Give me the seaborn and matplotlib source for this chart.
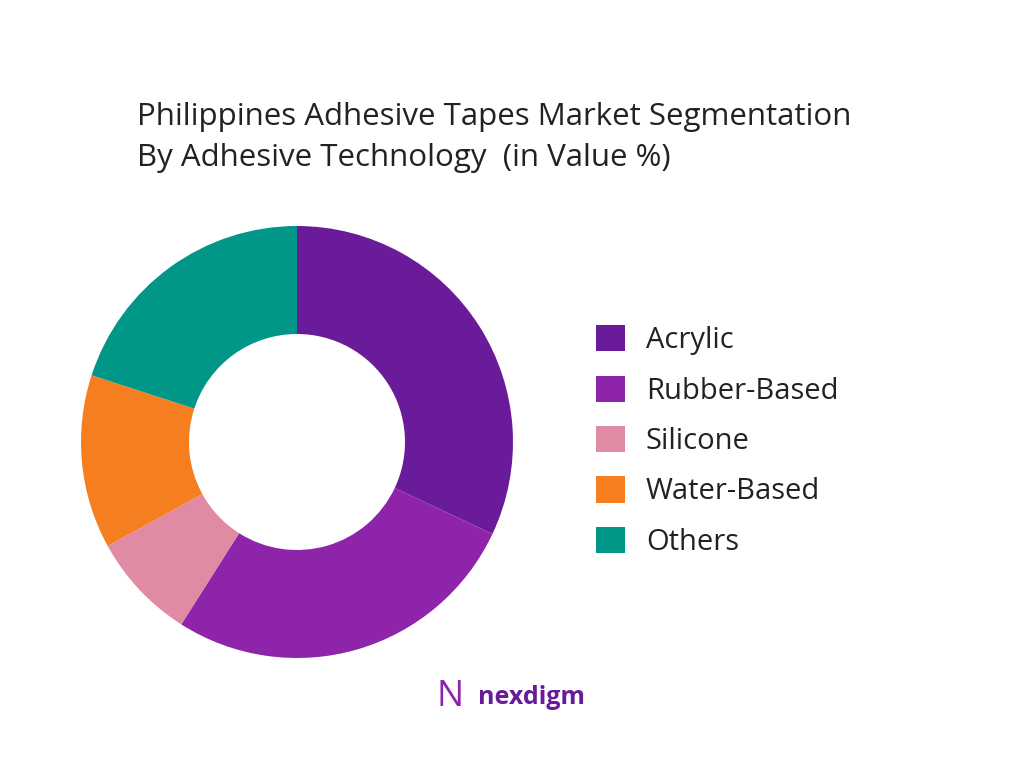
import matplotlib
matplotlib.use("Agg")
import matplotlib.pyplot as plt
import seaborn as sns
from matplotlib.patches import Patch

sns.set_theme(style="white")
plt.rcParams['font.family'] = ['Open Sans', 'DejaVu Sans']

categories = ["Acrylic", "Rubber-Based", "Silicone", "Water-Based", "Others"]
values = [32, 27, 8, 13, 20]
colors = ["#6A1B9A", "#8E24AA", "#E08AA3", "#F57F20", "#009688"]

fig = plt.figure(figsize=(10.24, 7.68), dpi=100)
fig.patch.set_facecolor("white")
ax = fig.add_axes([297/1024 - 216/1024, 1 - (442 + 216)/768, 432/1024, 432/768])
ax.pie(values, colors=colors, startangle=90, counterclock=False, radius=1,
       wedgeprops=dict(width=0.5, edgecolor="none"))
ax.set_xlim(-1, 1)
ax.set_ylim(-1, 1)
ax.set_aspect("equal")
ax.axis("off")

fig.text(137/1024, 1 - 117/768, "Philippines Adhesive Tapes Market Segmentation",
         fontsize=22.5, color="#222222", va="center")
fig.text(137/1024, 1 - 158/768, "By Adhesive Technology  (in Value %)",
         fontsize=22.5, color="#222222", va="center")

handles = [Patch(facecolor=c, edgecolor="none") for c in colors]
fig.legend(handles, categories, loc="center left", bbox_to_anchor=(570/1024, 1 - 441/768),
           frameon=False, fontsize=21, handlelength=1.0, handleheight=1.0,
           labelspacing=0.70, handletextpad=0.7, labelcolor="#222222")

fig.text(478/1024, 1 - 697/768, "nexdigm", fontsize=18, fontweight="bold",
         color="#6A1B9A", va="center")
fig.text(437/1024, 1 - 697/768, "N", fontsize=26, color="#8E24AA", va="center")

fig.savefig("out.png", dpi=100, facecolor="white")
